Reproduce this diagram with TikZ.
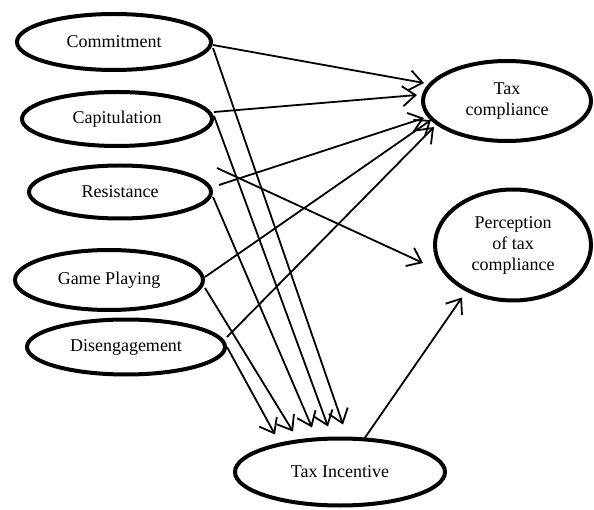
\documentclass[tikz,border=0pt]{standalone}
\usepackage{fontspec}
\setmainfont{Liberation Serif}
\usetikzlibrary{shapes.geometric,arrows.meta}

\begin{document}
\begin{tikzpicture}[x=1pt, y=-1pt, line width=1.8pt, >={Straight Barb[length=13pt,width=20pt]}, every node/.style={draw, ellipse, line width=4pt, inner sep=0pt, align=center, font=\fontsize{18}{21}\selectfont}]
            \useasboundingbox (0,0) rectangle (594,510);

            % Behaviour
            \node (com) at (114,42) [minimum width=194pt, minimum height=56pt] {Commitment};
            \node (cap) at (117,119) [minimum width=190pt, minimum height=54pt] {Capitulation};
            \node (res) at (120,192) [minimum width=182pt, minimum height=53pt] {Resistance};
            \node (gam) at (109,280) [minimum width=188pt, minimum height=60pt] {Game Playing};
            \node (dis) at (126,347) [minimum width=198pt, minimum height=55pt] {Disengagement};

            % Outcomes
            \node (tc) at (507,101) [minimum width=168pt, minimum height=80pt] {Tax\\compliance};
            \node (per) at (513,245) [minimum width=156pt, minimum height=111pt] {Perception\\of tax\\compliance};
            \node (ti) at (340,472) [minimum width=210pt, minimum height=67pt] {Tax Incentive};

            % Edges
            \draw[->] ([yshift=-3pt]com.east) -- ([xshift=3pt,yshift=18pt]tc.west);
            \draw[->] ([yshift=-6pt]com.east) -- ([xshift=3pt,yshift=12pt]ti.north);

            \draw[->] ([yshift=7pt]cap.east) -- ([xshift=-4pt,yshift=6pt]tc.west);
            \draw[->] ([yshift=3pt]cap.east) -- ([xshift=-12pt,yshift=10pt]ti.north);

            \draw[->] ([xshift=4pt,yshift=24pt]res.east) -- ([xshift=-10pt,yshift=-18pt]per.west);
            \draw[->] ([xshift=6pt,yshift=7pt]res.east) -- ([xshift=3pt,yshift=-17pt]tc.west);
            \draw[->] ([yshift=-5pt]res.east) -- ([xshift=-28pt,yshift=9pt]ti.north);

            \draw[->] ([yshift=3pt]gam.east) -- ([xshift=10pt,yshift=-19pt]tc.west);
            \draw[->] ([yshift=-8pt]gam.east) -- ([xshift=-47pt,yshift=5pt]ti.north);

            \draw[->] ([yshift=10pt]dis.east) -- ([xshift=13pt,yshift=-26pt]tc.west);
            \draw[->] (dis.east) -- ([xshift=-65pt,yshift=2pt]ti.north);

            \draw[->] ([xshift=23pt,yshift=-4pt]ti.north) -- ([xshift=-51pt,yshift=5pt]per.south);
        \end{tikzpicture}
\end{document}
